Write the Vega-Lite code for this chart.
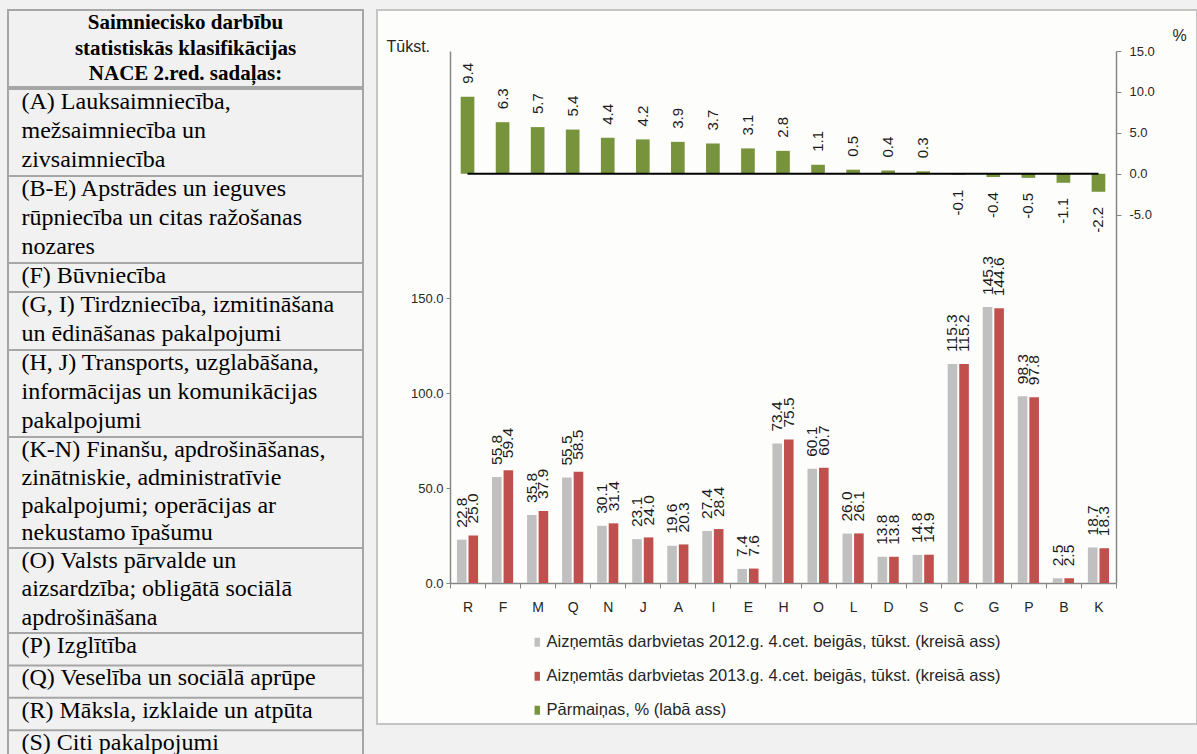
{
  "$schema": "https://vega.github.io/schema/vega-lite/v6.json",
  "background": "#f1f1f1",
  "padding": {"left": 6, "top": 9, "right": 0, "bottom": 0},
  "config": {
    "font": "Liberation Sans",
    "view": {"stroke": null},
    "locale": {"number": {"decimal": ".", "thousands": ",", "grouping": [3], "currency": ["", ""], "minus": "-"}}
  },
  "datasets": {
    "header": [
      {"line": 0, "text": "Saimniecisko darbību"},
      {"line": 1, "text": "statistiskās klasifikācijas"},
      {"line": 2, "text": "NACE 2.red. sadaļas:"}
    ],
    "table": [
      {"line": 3, "text": "(A) Lauksaimniecība,"},
      {"line": 4, "text": "mežsaimniecība un"},
      {"line": 5, "text": "zivsaimniecība"},
      {"line": 6, "text": "(B-E) Apstrādes un ieguves"},
      {"line": 7, "text": "rūpniecība un citas ražošanas"},
      {"line": 8, "text": "nozares"},
      {"line": 9, "text": "(F) Būvniecība"},
      {"line": 10, "text": "(G, I) Tirdzniecība, izmitināšana"},
      {"line": 11, "text": "un ēdināšanas pakalpojumi"},
      {"line": 12, "text": "(H, J) Transports, uzglabāšana,"},
      {"line": 13, "text": "informācijas un komunikācijas"},
      {"line": 14, "text": "pakalpojumi"},
      {"line": 15, "text": "(K-N) Finanšu, apdrošināšanas,"},
      {"line": 16, "text": "zinātniskie, administratīvie"},
      {"line": 17, "text": "pakalpojumi; operācijas ar"},
      {"line": 18, "text": "nekustamo īpašumu"},
      {"line": 19, "text": "(O) Valsts pārvalde un"},
      {"line": 20, "text": "aizsardzība; obligātā sociālā"},
      {"line": 21, "text": "apdrošināšana"},
      {"line": 22, "text": "(P) Izglītība"},
      {"line": 23, "text": "(Q) Veselība un sociālā aprūpe"},
      {"line": 24, "text": "(R) Māksla, izklaide un atpūta"},
      {"line": 25, "text": "(S) Citi pakalpojumi"}
    ],
    "seps": [
      {"line": 6}, {"line": 9}, {"line": 10}, {"line": 12}, {"line": 15},
      {"line": 19}, {"line": 22}, {"line": 23}, {"line": 24}, {"line": 25}
    ],
    "jobs": [
      {"code": "R", "year": "2012", "value": 22.8}, {"code": "R", "year": "2013", "value": 25.0},
      {"code": "F", "year": "2012", "value": 55.8}, {"code": "F", "year": "2013", "value": 59.4},
      {"code": "M", "year": "2012", "value": 35.8}, {"code": "M", "year": "2013", "value": 37.9},
      {"code": "Q", "year": "2012", "value": 55.5}, {"code": "Q", "year": "2013", "value": 58.5},
      {"code": "N", "year": "2012", "value": 30.1}, {"code": "N", "year": "2013", "value": 31.4},
      {"code": "J", "year": "2012", "value": 23.1}, {"code": "J", "year": "2013", "value": 24.0},
      {"code": "A", "year": "2012", "value": 19.6}, {"code": "A", "year": "2013", "value": 20.3},
      {"code": "I", "year": "2012", "value": 27.4}, {"code": "I", "year": "2013", "value": 28.4},
      {"code": "E", "year": "2012", "value": 7.4}, {"code": "E", "year": "2013", "value": 7.6},
      {"code": "H", "year": "2012", "value": 73.4}, {"code": "H", "year": "2013", "value": 75.5},
      {"code": "O", "year": "2012", "value": 60.1}, {"code": "O", "year": "2013", "value": 60.7},
      {"code": "L", "year": "2012", "value": 26.0}, {"code": "L", "year": "2013", "value": 26.1},
      {"code": "D", "year": "2012", "value": 13.8}, {"code": "D", "year": "2013", "value": 13.8},
      {"code": "S", "year": "2012", "value": 14.8}, {"code": "S", "year": "2013", "value": 14.9},
      {"code": "C", "year": "2012", "value": 115.3}, {"code": "C", "year": "2013", "value": 115.2},
      {"code": "G", "year": "2012", "value": 145.3}, {"code": "G", "year": "2013", "value": 144.6},
      {"code": "P", "year": "2012", "value": 98.3}, {"code": "P", "year": "2013", "value": 97.8},
      {"code": "B", "year": "2012", "value": 2.5}, {"code": "B", "year": "2013", "value": 2.5},
      {"code": "K", "year": "2012", "value": 18.7}, {"code": "K", "year": "2013", "value": 18.3}
    ],
    "change": [
      {"code": "R", "pct": 9.4}, {"code": "F", "pct": 6.3}, {"code": "M", "pct": 5.7},
      {"code": "Q", "pct": 5.4}, {"code": "N", "pct": 4.4}, {"code": "J", "pct": 4.2},
      {"code": "A", "pct": 3.9}, {"code": "I", "pct": 3.7}, {"code": "E", "pct": 3.1},
      {"code": "H", "pct": 2.8}, {"code": "O", "pct": 1.1}, {"code": "L", "pct": 0.5},
      {"code": "D", "pct": 0.4}, {"code": "S", "pct": 0.3}, {"code": "C", "pct": -0.1},
      {"code": "G", "pct": -0.4}, {"code": "P", "pct": -0.5}, {"code": "B", "pct": -1.1},
      {"code": "K", "pct": -2.2}
    ],
    "zeroline": [
      {"code": "R", "pct": 0}, {"code": "K", "pct": 0}
    ]
  },
  "spacing": 11,
  "hconcat": [
    {
      "spacing": 0,
      "vconcat": [
        {
          "width": 355,
          "height": 77,
          "view": {"stroke": "#a6a6a6", "strokeWidth": 2},
          "data": {"name": "header"},
          "mark": {"type": "text", "font": "Liberation Serif", "fontSize": 21, "fontWeight": "bold", "align": "center", "baseline": "middle", "dy": 13, "color": "#000000"},
          "encoding": {
            "y": {"field": "line", "type": "quantitative", "scale": {"domain": [0, 3], "reverse": true, "nice": false, "zero": false}, "axis": null},
            "text": {"field": "text"}
          }
        },
        {
          "width": 355,
          "height": 673,
          "view": {"stroke": "#a6a6a6", "strokeWidth": 2},
          "layer": [
            {
              "data": {"name": "seps"},
              "mark": {"type": "rule", "color": "#a6a6a6", "strokeWidth": 2},
              "encoding": {
                "y": {"field": "line", "type": "quantitative", "scale": {"domain": [3, 15, 19, 22, 26.2], "range": [0, 348, 459, 544, 680], "nice": false, "zero": false}, "axis": null}
              }
            },
            {
              "data": {"name": "table"},
              "mark": {"type": "text", "font": "Liberation Serif", "fontSize": 24, "align": "left", "baseline": "middle", "dx": -164, "dy": 13, "color": "#000000"},
              "encoding": {
                "y": {"field": "line", "type": "quantitative", "axis": null},
                "text": {"field": "text"}
              }
            }
          ]
        }
      ]
    },
    {
      "width": 820,
      "height": 714,
      "view": {"fill": "#fdfefc", "stroke": "#c4c4c4", "strokeWidth": 2},
      "resolve": {"scale": {"y": "independent"}},
      "layer": [
        {
          "data": {"name": "jobs"},
          "encoding": {
            "x": {
              "field": "code", "type": "nominal",
              "scale": {"domain": ["R","F","M","Q","N","J","A","I","E","H","O","L","D","S","C","G","P","B","K"], "range": [73, 739], "paddingInner": 0, "paddingOuter": 0},
              "axis": {"orient": "bottom", "offset": -141, "title": null, "labelAngle": 0, "labelFontSize": 14, "labelColor": "#262626", "domainColor": "#868686", "domainWidth": 1.5, "tickColor": "#868686", "tickBand": "extent", "tickSize": 5, "labelPadding": 12}
            },
            "xOffset": {"field": "year", "type": "nominal", "scale": {"domain": ["2012", "2013"], "paddingInner": 0.17, "paddingOuter": 0.6}},
            "y": {
              "field": "value", "type": "quantitative",
              "scale": {"domain": [0, 280], "range": [573, 41], "nice": false, "zero": false},
              "axis": {"orient": "left", "offset": -73, "values": [0, 50, 100, 150], "format": ".1f", "grid": false, "labelFontSize": 13, "labelColor": "#262626", "domainColor": "#868686", "domainWidth": 1.5, "tickColor": "#868686", "tickSize": 4, "labelPadding": 3,
                "title": "Tūkst.", "titleAngle": 0, "titleAlign": "left", "titleBaseline": "alphabetic", "titleX": -64, "titleY": 41, "titleFontSize": 16, "titleFontWeight": "normal", "titleColor": "#262626"}
            }
          },
          "layer": [
            {
              "mark": {"type": "bar"},
              "encoding": {
                "color": {
                  "field": "year", "type": "nominal",
                  "scale": {"domain": ["2012", "2013", "pct"], "range": ["#c0c0c0", "#c0504d", "#77933c"]},
                  "legend": {
                    "orient": "none", "legendX": 521, "legendY": 624, "direction": "vertical", "title": null,
                    "symbolType": "M-0.6,-1H0.6V1H-0.6Z", "symbolSize": 81, "symbolStrokeWidth": 0,
                    "labelFontSize": 16.5, "labelColor": "#262626", "rowPadding": 17, "labelOffset": 1, "labelLimit": 700,
                    "labelExpr": "datum.label == '2012' ? 'Aizņemtās darbvietas 2012.g. 4.cet. beigās, tūkst. (kreisā ass)' : datum.label == '2013' ? 'Aizņemtās darbvietas 2013.g. 4.cet. beigās, tūkst. (kreisā ass)' : 'Pārmaiņas, % (labā ass)'"
                  }
                }
              }
            },
            {
              "mark": {"type": "text", "angle": 270, "align": "left", "baseline": "middle", "dx": 12, "fontSize": 15.5, "color": "#1a1a1a"},
              "encoding": {"text": {"field": "value", "type": "quantitative", "format": ".1f"}}
            }
          ]
        },
        {
          "data": {"name": "change"},
          "encoding": {
            "x": {
              "field": "code", "type": "nominal",
              "axis": {"orient": "bottom", "offset": -141, "title": null, "labelAngle": 0, "labelFontSize": 14, "labelColor": "#262626", "domainColor": "#868686", "domainWidth": 1.5, "tickColor": "#868686", "tickBand": "extent", "tickSize": 5, "labelPadding": 12}
            },
            "y": {
              "field": "pct", "type": "quantitative",
              "scale": {"domain": [-50, 15], "range": [573, 41], "nice": false, "zero": false},
              "axis": {"orient": "right", "offset": -81, "values": [-5, 0, 5, 10, 15], "format": ".1f", "grid": false, "labelFontSize": 13, "labelColor": "#262626", "domainColor": "#868686", "domainWidth": 1.5, "tickColor": "#868686", "tickSize": 5, "labelPadding": 8,
                "title": "%", "titleAngle": 0, "titleAlign": "left", "titleBaseline": "alphabetic", "titleX": 56, "titleY": 30, "titleFontSize": 16, "titleFontWeight": "normal", "titleColor": "#262626"}
            }
          },
          "layer": [
            {
              "mark": {"type": "bar", "width": {"band": 0.39}},
              "encoding": {"color": {"datum": "pct", "type": "nominal"}}
            },
            {
              "data": {"name": "zeroline"},
              "mark": {"type": "line", "color": "#000000", "strokeWidth": 2}
            },
            {
              "transform": [{"filter": "datum.pct >= 0"}],
              "mark": {"type": "text", "angle": 270, "align": "left", "baseline": "middle", "dx": 13, "fontSize": 15, "color": "#1a1a1a"},
              "encoding": {"text": {"field": "pct", "type": "quantitative", "format": ".1f"}}
            },
            {
              "transform": [{"filter": "datum.pct < 0"}],
              "mark": {"type": "text", "angle": 270, "align": "right", "baseline": "middle", "dx": -15, "fontSize": 15, "color": "#1a1a1a"},
              "encoding": {"text": {"field": "pct", "type": "quantitative", "format": ".1f"}}
            }
          ]
        }
      ]
    }
  ]
}
